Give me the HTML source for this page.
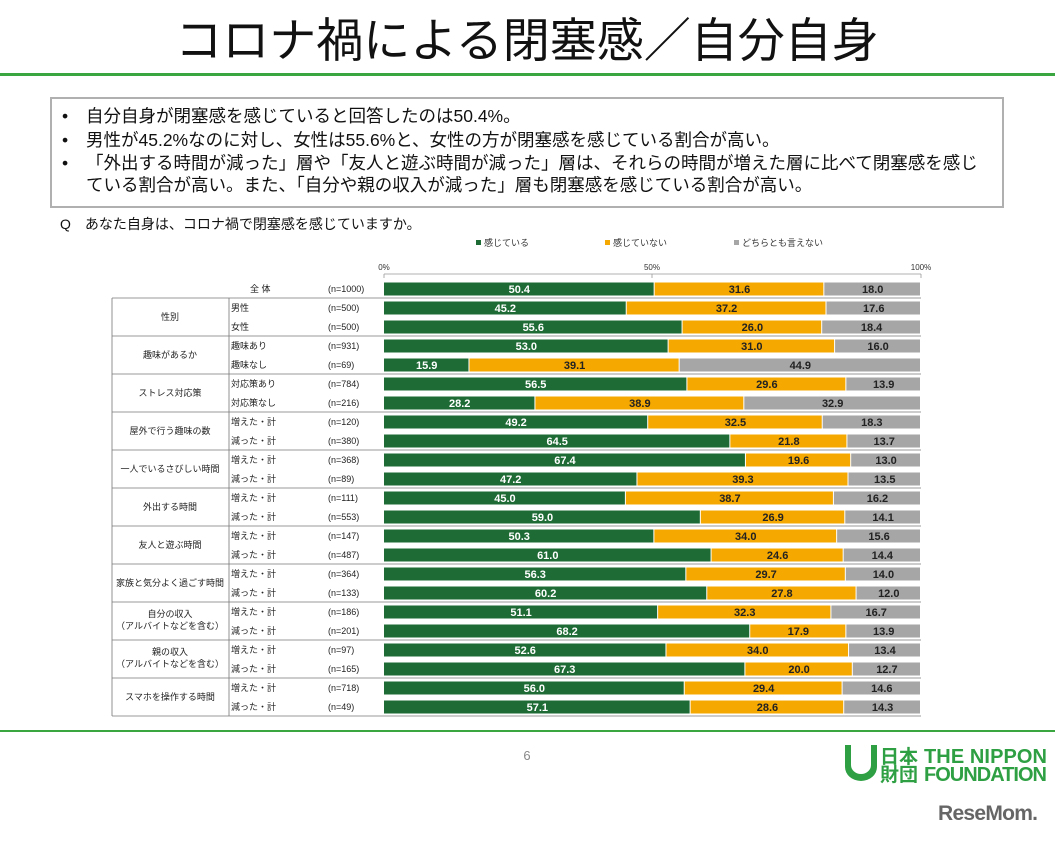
<!DOCTYPE html>
<html><head><meta charset="utf-8"><style>
body{margin:0;width:1055px;height:840px;background:#fff;overflow:hidden;font-family:"Liberation Sans","Noto Sans CJK JP",sans-serif;}
</style></head><body>
<svg width="1055" height="840" xmlns="http://www.w3.org/2000/svg" font-family="Liberation Sans, Noto Sans CJK JP, sans-serif">
<text x="527" y="57" font-size="47" text-anchor="middle" fill="#111">コロナ禍による閉塞感／自分自身</text>
<rect x="0" y="73" width="1055" height="3" fill="#3aa640"/>
<rect x="51" y="98" width="952" height="109" fill="none" stroke="#b0b0b0" stroke-width="2"/>
<g font-size="17.5" fill="#111">
<text x="62" y="122">•</text><text x="86" y="122">自分自身が閉塞感を感じていると回答したのは50.4%。</text>
<text x="62" y="146">•</text><text x="86" y="146">男性が45.2%なのに対し、女性は55.6%と、女性の方が閉塞感を感じている割合が高い。</text>
<text x="62" y="169">•</text><text x="86" y="169">「外出する時間が減った」層や「友人と遊ぶ時間が減った」層は、それらの時間が増えた層に比べて閉塞感を感じ</text>
<text x="86" y="191">ている割合が高い。また、「自分や親の収入が減った」層も閉塞感を感じている割合が高い。</text>
</g>
<text x="60" y="229" font-size="14" fill="#111">Q　あなた自身は、コロナ禍で閉塞感を感じていますか。</text>
<g font-size="9" fill="#333">
<rect x="476" y="240" width="5" height="5" fill="#1e6b35"/><text x="484" y="246">感じている</text>
<rect x="605" y="240" width="5" height="5" fill="#f5a800"/><text x="613" y="246">感じていない</text>
<rect x="734" y="240" width="5" height="5" fill="#a6a6a6"/><text x="742" y="246">どちらとも言えない</text>
<text x="384" y="270" text-anchor="middle" font-size="8">0%</text>
<text x="652" y="270" text-anchor="middle" font-size="8">50%</text>
<text x="921" y="270" text-anchor="middle" font-size="8">100%</text>
</g>
<line x1="384" y1="274" x2="921" y2="274" stroke="#999" stroke-width="0.8"/>
<g stroke="#999" stroke-width="0.8">
<line x1="384" y1="274" x2="384" y2="278"/><line x1="652" y1="274" x2="652" y2="278"/><line x1="921" y1="274" x2="921" y2="278"/>
</g>
<g stroke="#777" stroke-width="0.8" fill="none">
<line x1="112" y1="298" x2="921" y2="298"/>
<line x1="112" y1="336" x2="921" y2="336"/><line x1="112" y1="374" x2="921" y2="374"/>
<line x1="112" y1="412" x2="921" y2="412"/><line x1="112" y1="450" x2="921" y2="450"/>
<line x1="112" y1="488" x2="921" y2="488"/><line x1="112" y1="526" x2="921" y2="526"/>
<line x1="112" y1="564" x2="921" y2="564"/><line x1="112" y1="602" x2="921" y2="602"/>
<line x1="112" y1="640" x2="921" y2="640"/><line x1="112" y1="678" x2="921" y2="678"/>
<line x1="112" y1="716" x2="921" y2="716"/>
<line x1="112" y1="298" x2="112" y2="716"/><line x1="229" y1="298" x2="229" y2="716"/>
</g>
<g font-size="9" fill="#222" text-anchor="middle">
<text x="170" y="320">性別</text>
<text x="170" y="358">趣味があるか</text>
<text x="170" y="396">ストレス対応策</text>
<text x="170" y="434">屋外で行う趣味の数</text>
<text x="170" y="472">一人でいるさびしい時間</text>
<text x="170" y="510">外出する時間</text>
<text x="170" y="548">友人と遊ぶ時間</text>
<text x="170" y="586">家族と気分よく過ごす時間</text>
<text x="170" y="617">自分の収入</text><text x="170" y="629">（アルバイトなどを含む）</text>
<text x="170" y="655">親の収入</text><text x="170" y="667">（アルバイトなどを含む）</text>
<text x="170" y="700">スマホを操作する時間</text>
</g>
<g id="rows"></g>
<rect x="0" y="730" width="1055" height="2" fill="#3aa640"/>
<text x="527" y="760" font-size="13" fill="#888" text-anchor="middle">6</text>
<g fill="#2ea043">
<path d="M845 745 v22 a16 14 0 0 0 32 0 v-22 h-6 v20 a10 9 0 0 1 -20 0 v-20z"/>
<text x="880" y="763" font-size="19" font-weight="bold">日本</text>
<text x="880" y="781" font-size="19" font-weight="bold">財団</text>
<text x="924" y="763" font-size="20" font-weight="bold" textLength="123">THE NIPPON</text>
<text x="924" y="781" font-size="20" font-weight="bold" textLength="123">FOUNDATION</text>
</g>
<text x="938" y="820" font-size="21" font-weight="bold" fill="#666" textLength="100">ReseMom.</text>
</svg>
<script>
const d=[["全 体","(n=1000)",50.4,31.6,18.0],["男性","(n=500)",45.2,37.2,17.6],["女性","(n=500)",55.6,26.0,18.4],
["趣味あり","(n=931)",53.0,31.0,16.0],["趣味なし","(n=69)",15.9,39.1,44.9],["対応策あり","(n=784)",56.5,29.6,13.9],["対応策なし","(n=216)",28.2,38.9,32.9],
["増えた・計","(n=120)",49.2,32.5,18.3],["減った・計","(n=380)",64.5,21.8,13.7],["増えた・計","(n=368)",67.4,19.6,13.0],["減った・計","(n=89)",47.2,39.3,13.5],
["増えた・計","(n=111)",45.0,38.7,16.2],["減った・計","(n=553)",59.0,26.9,14.1],["増えた・計","(n=147)",50.3,34.0,15.6],["減った・計","(n=487)",61.0,24.6,14.4],
["増えた・計","(n=364)",56.3,29.7,14.0],["減った・計","(n=133)",60.2,27.8,12.0],["増えた・計","(n=186)",51.1,32.3,16.7],["減った・計","(n=201)",68.2,17.9,13.9],
["増えた・計","(n=97)",52.6,34.0,13.4],["減った・計","(n=165)",67.3,20.0,12.7],["増えた・計","(n=718)",56.0,29.4,14.6],["減った・計","(n=49)",57.1,28.6,14.3]];
const g=document.getElementById("rows");let h="";const W=537,X=384;
d.forEach((r,i)=>{const y=289+i*19;const tot=r[2]+r[3]+r[4];
h+=`<text x="${i==0?250:231}" y="${y+3}" font-size="9" fill="#222">${r[0]}</text><text x="328" y="${y+3}" font-size="9" fill="#222">${r[1]}</text>`;
let x=X;const c=["#1e6b35","#f5a800","#a6a6a6"];
[2,3,4].forEach((k,j)=>{const w=r[k]/tot*W;h+=`<rect x="${x}" y="${y-6.5}" width="${w-1}" height="13" fill="${c[j]}"/><text x="${x+w/2}" y="${y+4}" font-size="11" font-weight="bold" text-anchor="middle" fill="${j==0?'#fff':'#222'}">${r[k].toFixed(1)}</text>`;x+=w;});});
g.innerHTML=h;
</script>
</body></html>
